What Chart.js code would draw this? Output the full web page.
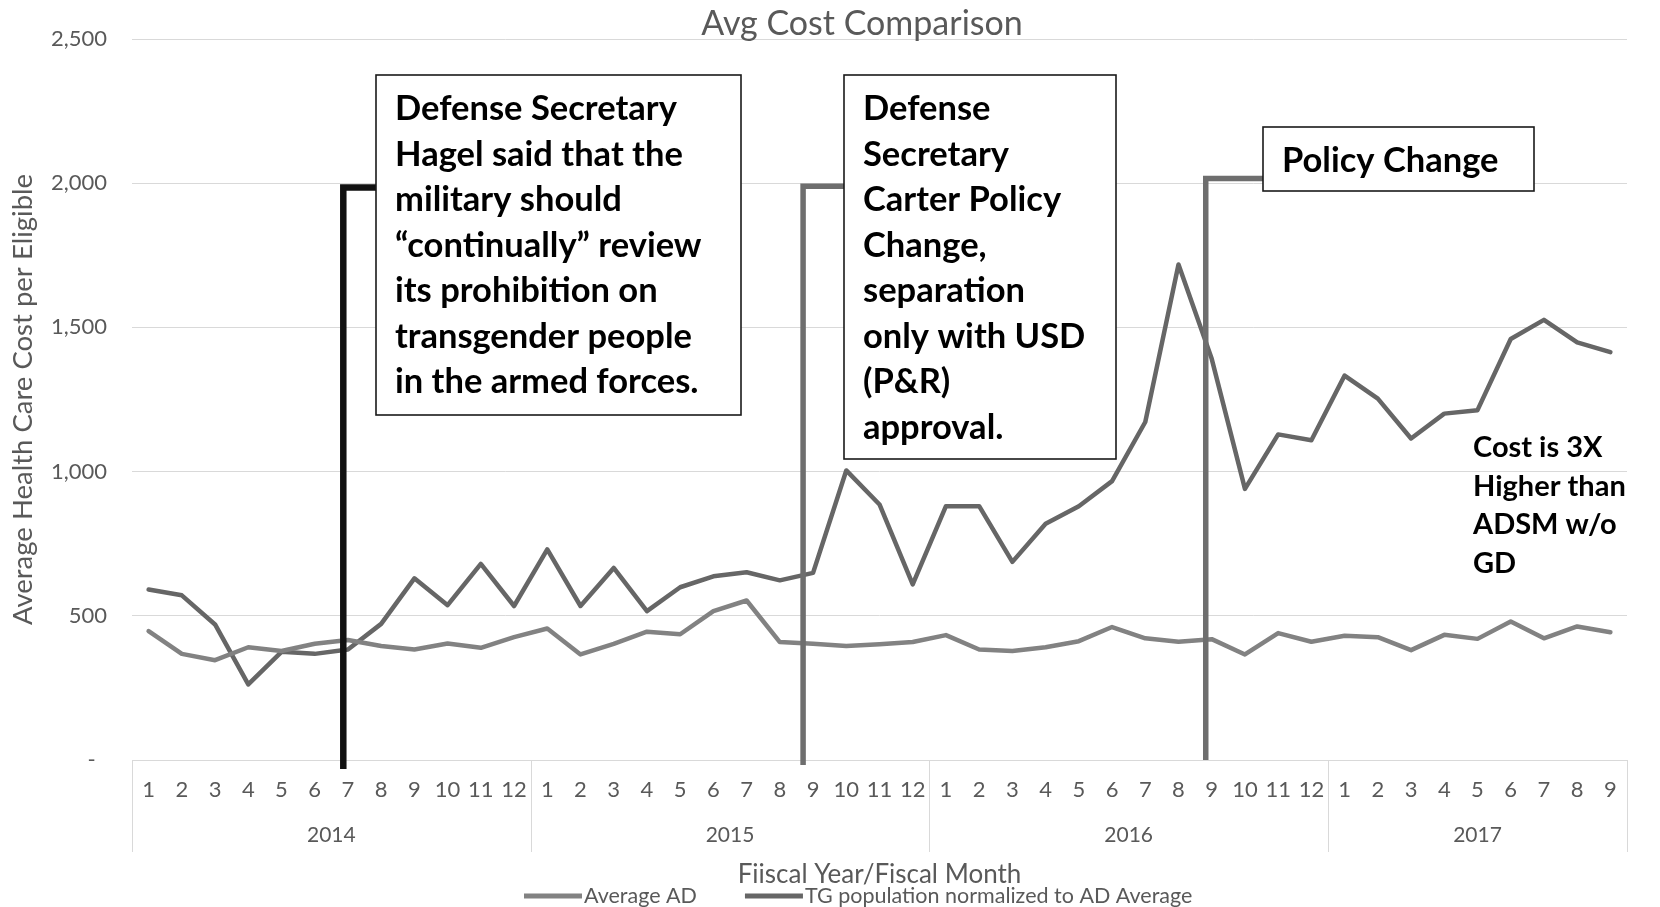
<!DOCTYPE html>
<html>
<head>
<meta charset="utf-8">
<title>Avg Cost Comparison</title>
<script src="https://cdn.jsdelivr.net/npm/chart.js@4.4.1/dist/chart.umd.min.js"></script>
<style>
  html, body { margin: 0; padding: 0; background: #fff; }
  #wrap { width: 1660px; height: 907px; }
</style>
</head>
<body>
<div id="wrap"><canvas id="costChart"></canvas></div>
<script>
// fiscal month ticks, grouped by fiscal year
const fiscalMonths = [
  '1', '2', '3', '4', '5', '6', '7', '8', '9', '10', '11', '12',
  '1', '2', '3', '4', '5', '6', '7', '8', '9', '10', '11', '12',
  '1', '2', '3', '4', '5', '6', '7', '8', '9', '10', '11', '12',
  '1', '2', '3', '4', '5', '6', '7', '8', '9'
];
const fiscalYears = ['2014', '2015', '2016', '2017'];
const monthsInYear = [12, 12, 12, 9];

const averageAD = [
  447, 368, 346, 391, 378, 403, 416, 395, 383, 404, 389, 426,
  456, 366, 403, 445, 436, 516, 553, 409, 403, 395, 401, 409,
  433, 383, 378, 391, 412, 461, 422, 410, 419, 366, 440, 410,
  431, 426, 381, 434, 420, 480, 422, 463, 443
];
const tgNormalized = [
  591, 571, 470, 262, 375, 368, 383, 472, 630, 537, 680, 534,
  730, 534, 666, 516, 599, 637, 651, 623, 649, 1004, 886, 609,
  880, 880, 687, 819, 880, 967, 1172, 1718, 1391, 940, 1129, 1109,
  1333, 1253, 1115, 1201, 1213, 1460, 1526, 1448, 1414
];

const yTicks = [0, 500, 1000, 1500, 2000, 2500];

const FONT = 'Lato, "Open Sans", sans-serif';
const AXIS_TEXT = '#595959';
const GRID = '#d9d9d9';
const chartTitle = 'Avg Cost Comparison';

// event markers: category index (+ small shift), top/bottom in data units
const markers = [
  { index: 6, shift: -0.14, top: 1985, bottom: -31, color: '#111111', width: 6.5,
    box: { x: 376, y: 75, w: 365, h: 340 },
    lines: ['Defense Secretary', 'Hagel said that the', 'military should',
            '\u201ccontinually\u201d review', 'its prohibition on',
            'transgender people', 'in the armed forces.'] },
  { index: 20, shift: -0.3, top: 1989, bottom: -17, color: '#6e6e6e', width: 5.5,
    box: { x: 844, y: 75, w: 272, h: 384 },
    lines: ['Defense', 'Secretary', 'Carter Policy', 'Change,', 'separation',
            'only with USD', '(P&R)', 'approval.'] },
  { index: 32, shift: -0.18, top: 2016, bottom: 0, color: '#6e6e6e', width: 5.5,
    box: { x: 1263, y: 127, w: 271, h: 64 },
    lines: ['Policy Change'] }
];
const note = ['Cost is 3X', 'Higher than', 'ADSM w/o', 'GD'];

const annotations = {
  id: 'costAnnotations',
  afterDatasetsDraw(chart) {
    const { ctx, scales: { x, y } } = chart;
    const step = x.getPixelForValue(1) - x.getPixelForValue(0);
    ctx.save();
    markers.forEach(m => {
      const px = x.getPixelForValue(m.index) + m.shift * step;
      const top = y.getPixelForValue(m.top);
      const bottom = y.getPixelForValue(m.bottom);
      ctx.strokeStyle = m.color;
      ctx.lineWidth = m.width;
      ctx.lineJoin = 'miter';
      ctx.lineCap = 'butt';
      ctx.beginPath();
      ctx.moveTo(px, bottom);
      ctx.lineTo(px, top);
      ctx.lineTo(m.box.x, top);
      ctx.stroke();

      ctx.fillStyle = '#ffffff';
      ctx.fillRect(m.box.x, m.box.y, m.box.w, m.box.h);
      ctx.strokeStyle = '#1a1a1a';
      ctx.lineWidth = 1.6;
      ctx.strokeRect(m.box.x, m.box.y, m.box.w, m.box.h);

      ctx.fillStyle = '#000000';
      ctx.font = 'bold 34.5px ' + FONT;
      ctx.textAlign = 'left';
      ctx.textBaseline = 'middle';
      m.lines.forEach((t, i) => {
        ctx.fillText(t, m.box.x + 19, m.box.y + 34 + i * 45.5);
      });
    });

    ctx.font = 'bold 29px ' + FONT;
    ctx.fillStyle = '#000000';
    note.forEach((t, i) => ctx.fillText(t, 1473, 448 + i * 38.5));
    ctx.restore();
  },
  afterDraw(chart) {
    const { ctx, chartArea, scales: { x } } = chart;
    const step = x.getPixelForValue(1) - x.getPixelForValue(0);
    ctx.save();

    // chart title, sitting over the plot a little left of its centre
    ctx.fillStyle = AXIS_TEXT;
    ctx.font = '34px ' + FONT;
    ctx.textAlign = 'center';
    ctx.textBaseline = 'middle';
    ctx.fillText(chartTitle, 862, 24);

    // year group separators and labels
    let start = 0;
    const edges = [x.getPixelForValue(0) - step / 2];
    monthsInYear.forEach(n => {
      start += n;
      edges.push(x.getPixelForValue(start - 1) + step / 2);
    });
    ctx.strokeStyle = GRID;
    ctx.lineWidth = 1;
    edges.forEach(e => {
      ctx.beginPath();
      ctx.moveTo(Math.round(e) + 0.5, chartArea.bottom);
      ctx.lineTo(Math.round(e) + 0.5, 852);
      ctx.stroke();
    });
    ctx.font = '21px ' + FONT;
    fiscalYears.forEach((yr, i) => {
      ctx.fillText(yr, (edges[i] + edges[i + 1]) / 2, 835);
    });

    // legend
    ctx.font = '21.5px ' + FONT;
    ctx.textAlign = 'left';
    let lx = 524;
    chart.data.datasets.forEach(ds => {
      ctx.strokeStyle = ds.borderColor;
      ctx.lineWidth = 5;
      ctx.lineCap = 'butt';
      ctx.beginPath();
      ctx.moveTo(lx, 896);
      ctx.lineTo(lx + 58, 896);
      ctx.stroke();
      ctx.fillStyle = AXIS_TEXT;
      ctx.fillText(ds.label, lx + 60, 896);
      lx += 60 + ctx.measureText(ds.label).width + 48;
    });
    ctx.restore();
  }
};

new Chart(document.getElementById('costChart'), {
  type: 'line',
  data: {
    labels: fiscalMonths,
    datasets: [
      { label: 'Average AD', data: averageAD, borderColor: '#828282', backgroundColor: '#828282',
        borderWidth: 4.5, pointRadius: 0, tension: 0, borderJoinStyle: 'round', borderCapStyle: 'round' },
      { label: 'TG population normalized to AD Average', data: tgNormalized, borderColor: '#666666',
        backgroundColor: '#666666', borderWidth: 4.5, pointRadius: 0, tension: 0,
        borderJoinStyle: 'round', borderCapStyle: 'round' }
    ]
  },
  options: {
    responsive: true,
    maintainAspectRatio: false,
    animation: false,
    layout: { padding: { left: 0, right: 33, top: 39, bottom: 21 } },
    plugins: {
      legend: { display: false },
      tooltip: { enabled: false },
      title: { display: false }
    },
    scales: {
      x: {
        offset: true,
        grid: { display: false, drawTicks: false },
        border: { display: true, color: GRID, width: 1 },
        ticks: { color: AXIS_TEXT, font: { family: FONT, size: 22 }, padding: 17,
                 autoSkip: false, maxRotation: 0 },
        title: { display: true, text: 'Fiiscal Year/Fiscal Month', color: AXIS_TEXT,
                 font: { family: FONT, size: 26, lineHeight: 0.85 }, padding: { top: 0, bottom: 0 } },
        afterFit: s => { s.height = 126; }
      },
      y: {
        min: yTicks[0],
        max: yTicks[yTicks.length - 1],
        afterBuildTicks: s => { s.ticks = yTicks.map(v => ({ value: v })); },
        ticks: { color: AXIS_TEXT, font: { family: FONT, size: 22 }, padding: 25,
                 callback: v => (v === 0 ? '-  ' : v.toLocaleString('en-US')) },
        grid: { color: GRID, lineWidth: 1, drawTicks: false },
        border: { display: false },
        title: { display: true, text: 'Average Health Care Cost per Eligible', color: AXIS_TEXT,
                 font: { family: FONT, size: 27.5 }, padding: { top: 6.5, bottom: 0 } },
        afterFit: s => { s.width = 132; }
      }
    }
  },
  plugins: [annotations]
});
</script>
</body>
</html>
